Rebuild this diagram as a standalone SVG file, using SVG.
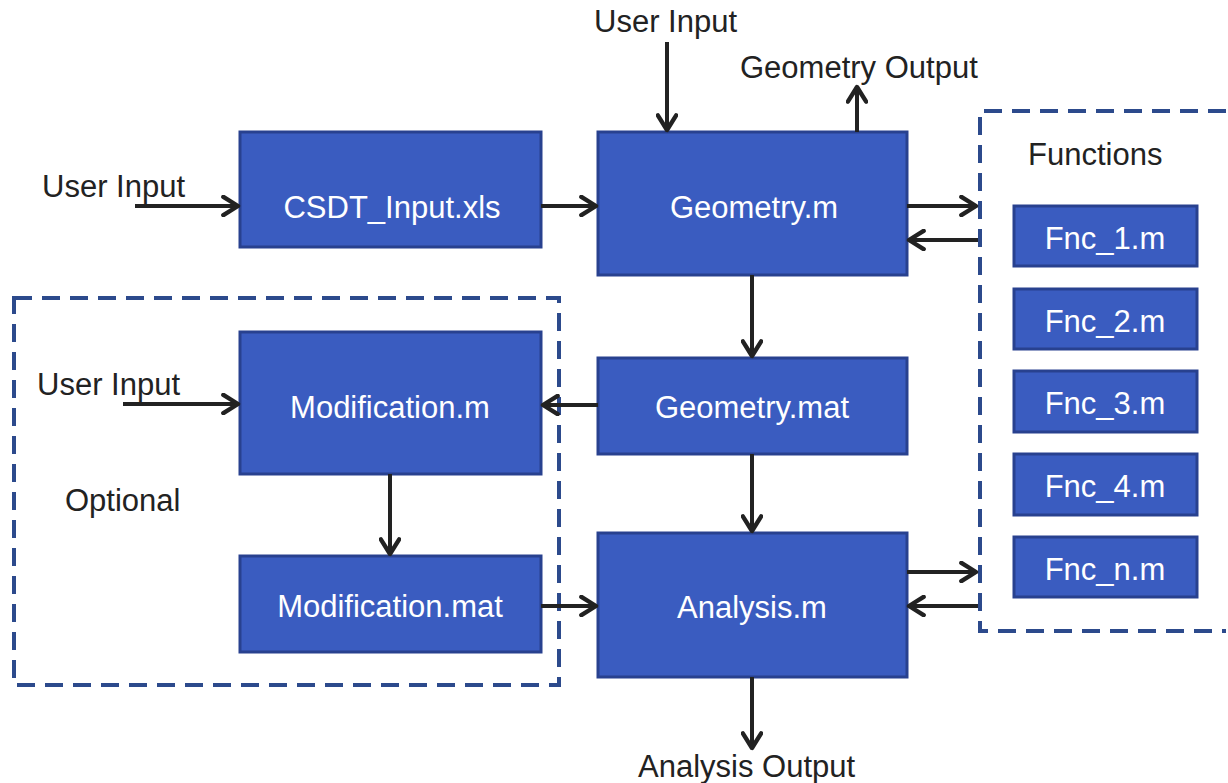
<svg xmlns="http://www.w3.org/2000/svg" width="1228" height="783" viewBox="0 0 1228 783">
<style>
.box{fill:#3a5cc0;stroke:#28418f;stroke-width:3}
.lbl{font-family:"Liberation Sans",Arial,sans-serif;font-size:31px;fill:#ffffff;text-anchor:middle;dominant-baseline:central}
.txt{font-family:"Liberation Sans",Arial,sans-serif;font-size:31px;fill:#222222}
.dash{fill:none;stroke:#2c4a8c;stroke-width:4;stroke-dasharray:18,10}
.con{fill:none;stroke:#222222;stroke-width:4;marker-end:url(#ah)}
</style>
<defs>
<marker id="ah" viewBox="0 0 12 12" refX="10" refY="6" markerWidth="5.5" markerHeight="5.5" orient="auto" markerUnits="strokeWidth">
<polyline points="2,1 10,6 2,11" fill="none" stroke="#222222" stroke-width="2.4" stroke-linecap="round" stroke-linejoin="round"/>
</marker>
</defs>
<rect width="1228" height="783" fill="#ffffff"/>
<g id="optional-group"><rect class="dash" x="14" y="298" width="545" height="387"/><text class="txt" x="65" y="511">Optional</text></g>
<g id="functions-group"><path class="dash" d="M1226,111 H980 V631 H1226"/><text class="txt" x="1028" y="165">Functions</text></g>
<g id="csdt"><rect class="box" x="240" y="132" width="301" height="115"/><text class="lbl" x="392" y="207">CSDT_Input.xls</text></g>
<g id="geometry-m"><rect class="box" x="598" y="132" width="309" height="143"/><text class="lbl" x="754" y="207">Geometry.m</text></g>
<g id="geometry-mat"><rect class="box" x="598" y="358" width="309" height="96"/><text class="lbl" x="752" y="407">Geometry.mat</text></g>
<g id="analysis-m"><rect class="box" x="598" y="533" width="309" height="144"/><text class="lbl" x="752" y="607">Analysis.m</text></g>
<g id="modification-m"><rect class="box" x="240" y="332" width="301" height="142"/><text class="lbl" x="390" y="407">Modification.m</text></g>
<g id="modification-mat"><rect class="box" x="240" y="556" width="301" height="96"/><text class="lbl" x="390" y="606">Modification.mat</text></g>
<g id="fnc1"><rect class="box" x="1014" y="206" width="183" height="60"/><text class="lbl" x="1105" y="238">Fnc_1.m</text></g>
<g id="fnc2"><rect class="box" x="1014" y="289" width="183" height="60"/><text class="lbl" x="1105" y="321">Fnc_2.m</text></g>
<g id="fnc3"><rect class="box" x="1014" y="371" width="183" height="61"/><text class="lbl" x="1105" y="403">Fnc_3.m</text></g>
<g id="fnc4"><rect class="box" x="1014" y="454" width="183" height="61"/><text class="lbl" x="1105" y="486">Fnc_4.m</text></g>
<g id="fncn"><rect class="box" x="1014" y="537" width="183" height="60"/><text class="lbl" x="1105" y="569">Fnc_n.m</text></g>
<g id="labels">
<text class="txt" x="594" y="32">User Input</text>
<text class="txt" x="740" y="78">Geometry Output</text>
<text class="txt" x="42" y="197">User Input</text>
<text class="txt" x="37" y="395">User Input</text>
<text class="txt" x="638" y="777">Analysis Output</text>
</g>
<g id="connectors">
<path class="con" d="M667,42 V130"/>
<path class="con" d="M857,132 V87"/>
<path class="con" d="M135,206 H238"/>
<path class="con" d="M541,206 H596"/>
<path class="con" d="M907,206 H976"/>
<path class="con" d="M978,240 H909"/>
<path class="con" d="M752,275 V356"/>
<path class="con" d="M598,405 H543"/>
<path class="con" d="M123,404 H238"/>
<path class="con" d="M390,474 V554"/>
<path class="con" d="M541,606 H596"/>
<path class="con" d="M752,454 V531"/>
<path class="con" d="M907,572 H976"/>
<path class="con" d="M978,606 H909"/>
<path class="con" d="M752,677 V748"/>
</g>
</svg>
